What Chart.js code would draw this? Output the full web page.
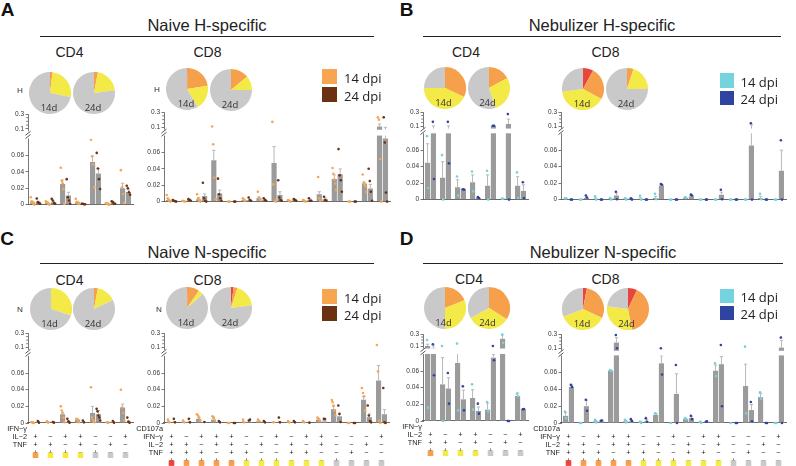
<!DOCTYPE html>
<html>
<head>
<meta charset="utf-8">
<script src="https://cdn.jsdelivr.net/npm/chart.js@4.4.1/dist/chart.umd.min.js"></script>
<style>
  body { margin: 0; background: #fff; }
  #fig { position: relative; width: 796px; height: 466px; overflow: hidden; font-family: "Liberation Sans", Arial, sans-serif; color: #222; }
  #fig canvas { position: absolute; }
  .t { position: absolute; transform: translate(-50%, -50%); line-height: 1; white-space: nowrap; }
  .sq { position: absolute; }
</style>
</head>
<body>
<div id="fig"></div>
<script>
// polyfunctional cytokine profiles, Naive vs Nebulizer, H and N specific

// ---- combos on the x axis ----
const cd4Ifng = ['+', '−', '+', '+', '−', '−', '+'];
const cd4Il2 = ['+', '+', '−', '+', '−', '+', '−'];
const cd4Tnf = ['+', '+', '+', '−', '+', '−', '−'];
const cd4Funcs = [3, 2, 2, 2, 1, 1, 1];

const cd8Cd107a = ['+', '−', '+', '+', '+', '−', '−', '+', '−', '+', '+', '−', '−', '−', '+'];
const cd8Ifng = ['+', '+', '−', '+', '+', '−', '+', '−', '+', '−', '+', '−', '−', '+', '−'];
const cd8Il2 = ['+', '+', '+', '−', '+', '+', '−', '−', '+', '+', '−', '−', '+', '−', '−'];
const cd8Tnf = ['+', '+', '+', '+', '−', '+', '+', '+', '−', '−', '−', '+', '−', '−', '−'];
const cd8Funcs = [4, 3, 3, 3, 3, 2, 2, 2, 2, 2, 2, 1, 1, 1, 1];

const yTickValues = [0, 0.02, 0.04, 0.06, 0.1, 0.3];
const yTickLabels = ['0', '0.02', '0.04', '0.06', '0.1', '0.3'];

// ---- pie fractions: [4 functions, 3, 2, 1] ----
const pieA4_14 = [0, 0.02, 0.26, 0.72];
const pieA4_24 = [0, 0.03, 0.2, 0.77];
const pieA8_14 = [0.005, 0.22, 0.19, 0.585];
const pieA8_24 = [0, 0.14, 0.11, 0.75];
const pieB4_14 = [0, 0.32, 0.43, 0.25];
const pieB4_24 = [0, 0.17, 0.28, 0.55];
const pieB8_14 = [0.08, 0.25, 0.4, 0.27];
const pieB8_24 = [0, 0.05, 0.2, 0.75];
const pieC4_14 = [0, 0, 0.3, 0.7];
const pieC4_24 = [0, 0.03, 0.15, 0.82];
const pieC8_14 = [0.005, 0.09, 0.04, 0.865];
const pieC8_24 = [0.02, 0.03, 0.18, 0.77];
const pieD4_14 = [0, 0.19, 0.31, 0.5];
const pieD4_24 = [0, 0.34, 0.33, 0.33];
const pieD8_14 = [0.03, 0.29, 0.37, 0.31];
const pieD8_24 = [0.07, 0.4, 0.3, 0.23];

// ---- A: Naive H-specific ----
const aCd4Mean14 = [0.003, 0.002, 0.025, 0.003, 0.052, 0.0015, 0.02];
const aCd4Sem14 = [0.001, 0.001, 0.005, 0.001, 0.007, 0.0005, 0.006];
const aCd4Dots14 = [[0.009, 0.004, 0.002, 0.001, 0], [0.004, 0.003, 0.002, 0.001, 0], [0.045, 0.029, 0.026, 0.019, 0.001], [0.007, 0.003, 0.002, 0.001, 0.001], [0.079, 0.059, 0.049, 0.021], [0.002, 0.001, 0.001, 0, 0], [0.042, 0.021, 0.013, 0.002]];
const aCd4Mean24 = [0.003, 0.003, 0.011, 0.0008, 0.038, 0.002, 0.0155];
const aCd4Sem24 = [0.001, 0.001, 0.004, 0.0003, 0.006, 0.001, 0.0025];
const aCd4Dots24 = [[0.0075, 0.003, 0.002, 0.001], [0.007, 0.005, 0.002, 0.001], [0.031, 0.009, 0.005, 0.001], [0.001, 0.001, 0.0005, 0.0005], [0.063, 0.044, 0.031, 0.019], [0.004, 0.003, 0.001, 0.001], [0.023, 0.02, 0.015, 0.012]];

const aCd8Mean14 = [0.002, 0.0005, 0.003, 0.0505, 0, 0.002, 0.004, 0.047, 0.001, 0.001, 0.009, 0.0275, 0, 0.022, 0.11];
const aCd8Sem14 = [0.001, 0.0003, 0.002, 0.012, 0, 0.001, 0.0015, 0.02, 0.0005, 0.0005, 0.003, 0.005, 0, 0.002, 0.032];
const aCd8Dots14 = [[0.008, 0.004, 0.002, 0.001, 0], [0.001, 0.0005, 0], [0.009, 0.004, 0.001, 0], [0.11, 0.07, 0.029, 0.003], [0, 0], [0.004, 0.002, 0.001], [0.012, 0.005, 0.002], [0.17, 0.021, 0.001, 0], [0.002, 0.001, 0], [0.002, 0.001, 0], [0.03, 0.004, 0.001], [0.041, 0.034, 0.027, 0.022, 0.014], [0, 0], [0.033, 0.023, 0.021, 0.019, 0.012], [0.23, 0.2, 0.052, 0]];
const aCd8Mean24 = [0.001, 0.002, 0.0068, 0.01, 0, 0.002, 0.002, 0.008, 0.002, 0.002, 0.003, 0.0333, 0, 0.016, 0.077];
const aCd8Sem24 = [0.0005, 0.001, 0.0025, 0.004, 0, 0.001, 0.001, 0.004, 0.001, 0.001, 0.0015, 0.0065, 0, 0.005, 0.023];
const aCd8Dots24 = [[0.002, 0.001, 0.0005, 0], [0.003, 0.002, 0.001], [0.023, 0.004, 0.001, 0], [0.028, 0.009, 0.004, 0.001], [0, 0], [0.005, 0.002, 0.001], [0.004, 0.002, 0.001], [0.026, 0.005, 0.002, 0.001], [0.003, 0.002, 0.001], [0.004, 0.001, 0.001], [0.006, 0.002, 0.001], [0.064, 0.032, 0.026, 0.012], [0, 0], [0.04, 0.025, 0.012, 0.001], [0.23, 0.072, 0.011, 0]];

// ---- B: Nebulizer H-specific ----
const bCd4Mean14 = [0.0448, 0.0264, 0.015, 0.021, 0.0168, 0.001, 0.0168];
const bCd4Sem14 = [0.023, 0.0196, 0.009, 0.009, 0.0132, 0.0003, 0.011];
const bCd4Dots14 = [[0.077, 0.014], [0.054, 0], [0.028, 0.005], [0.034, 0.01], [0.035, 0], [0.001, 0.001], [0.033, 0.002]];
const bCd4Mean24 = [0.092, 0.092, 0.013, 0.002, 0.105, 0.13, 0.0104];
const bCd4Sem24 = [0.01, 0.01, 0.0005, 0.0005, 0, 0.07, 0.0076];
const bCd4Dots24 = [[0.16, 0.025], [0.16, 0.044], [0.0125, 0.012], [0.003, 0.002], [0.105, 0.105], [0.27, 0], [0.021, 0.002]];

const bCd8Mean14 = [0.001, 0, 0.001, 0.001, 0.001, 0.001, 0.002, 0, 0.002, 0, 0, 0, 0, 0.002, 0];
const bCd8Sem14 = [0.0003, 0, 0.001, 0.0005, 0.0005, 0.001, 0.002, 0, 0.0005, 0, 0, 0, 0, 0.002, 0];
const bCd8Dots14 = [[0.0015, 0.0015], [0, 0], [0.004, 0], [0.002, 0], [0.0015, 0], [0.0045, 0], [0.007, 0.0005], [0, 0], [0.003, 0.002], [0, 0], [0, 0], [0, 0], [0, 0], [0.007, 0.0005], [0, 0]];
const bCd8Mean24 = [0, 0.002, 0, 0.005, 0.001, 0, 0.0172, 0, 0.004, 0, 0.006, 0, 0.0656, 0, 0.035];
const bCd8Sem24 = [0, 0.001, 0, 0.003, 0.0005, 0, 0.001, 0, 0.001, 0, 0.003, 0, 0.05, 0, 0.025];
const bCd8Dots24 = [[0, 0], [0.005, 0.0025], [0, 0], [0.0096, 0.0005], [0.0015, 0], [0, 0], [0.019, 0.018], [0, 0], [0.006, 0.005], [0, 0], [0.012, 0.0005], [0, 0], [0.14, 0], [0, 0], [0.072, 0]];

// ---- C: Naive N-specific ----
const cCd4Mean14 = [0.001, 0.001, 0.0105, 0.004, 0.012, 0.001, 0.0186];
const cCd4Sem14 = [0.0005, 0.0005, 0.0025, 0.001, 0.008, 0.0003, 0.004];
const cCd4Dots14 = [[0.0012, 0.0004, 0], [0.002, 0.0005], [0.02, 0.015, 0.012, 0.0065, 0.001], [0.005, 0.004, 0.001], [0.043, 0.0065, 0.003, 0.001], [0.0008, 0.0004], [0.04, 0.0186, 0.012, 0.003]];
const cCd4Mean24 = [0.001, 0.001, 0.001, 0.001, 0.0105, 0.001, 0.001];
const cCd4Sem24 = [0.0005, 0.0003, 0.001, 0.0005, 0.0045, 0.0005, 0.001];
const cCd4Dots24 = [[0.0024, 0.0004], [0.0012, 0.0004], [0.005, 0.002, 0.0004], [0.003, 0.0008], [0.017, 0.014, 0.009, 0.0065, 0.003], [0.0024, 0.0004], [0.0065, 0.0016, 0.0004]];

const cCd8Mean14 = [0.001, 0.001, 0.005, 0.004, 0, 0.001, 0.002, 0.001, 0.001, 0.001, 0.004, 0.0166, 0, 0.028, 0.051];
const cCd8Sem14 = [0.001, 0.0005, 0.002, 0.0015, 0, 0.0008, 0.001, 0.0003, 0.0005, 0.0005, 0.001, 0.0034, 0, 0.0036, 0.018];
const cCd8Dots14 = [[0.004, 0.0008], [0.003, 0.0008], [0.0105, 0.009, 0.0065, 0.003], [0.008, 0.007, 0.003], [0, 0], [0.004, 0.0008], [0.004, 0.0024], [0.0008], [0.0024, 0.0008], [0.0024, 0.0008], [0.0065, 0.005, 0.0024], [0.0275, 0.025, 0.021, 0.015, 0.009], [0, 0], [0.042, 0.036, 0.032, 0.015], [0.133, 0.062, 0.003, 0]];
const cCd8Mean24 = [0.001, 0.001, 0.001, 0.001, 0, 0.001, 0.001, 0.001, 0.001, 0, 0.002, 0.008, 0, 0.007, 0.0105];
const cCd8Sem24 = [0.001, 0.001, 0.0003, 0.0005, 0, 0.001, 0.0005, 0.001, 0.0005, 0, 0.001, 0.0025, 0, 0.004, 0.0055];
const cCd8Dots24 = [[0.005, 0.0008], [0.005, 0.0008], [0.0012], [0.0024, 0.0008], [0, 0], [0.003, 0.004], [0.0024, 0.0008], [0.0065, 0.0008], [0.0024, 0.0008], [0.0004], [0.005, 0.0048], [0.021, 0.011, 0.0012], [0, 0], [0.021, 0.009, 0.0024, 0.0008], [0.042, 0.0008, 0]];

// ---- D: Nebulizer N-specific ----
const dCd4Mean14 = [0.1, 0.044, 0.0696, 0.0276, 0.0136, 0.22, 0.03];
const dCd4Sem14 = [0.03, 0.032, 0.019, 0.01, 0.008, 0.065, 0.0036];
const dCd4Dots14 = [[0.2, 0.016], [0.1, 0], [0.14, 0.0128], [0.044, 0.0136], [0.0228, 0.0116], [0.29, 0.155], [0.0328, 0.0296]];
const dCd4Mean24 = [0.094, 0.039, 0.026, 0.012, 0.076, 0, 0.014];
const dCd4Sem24 = [0.007, 0.013, 0.011, 0.0048, 0.004, 0, 0.0004];
const dCd4Dots24 = [[0.13, 0.055], [0.0576, 0.0208], [0.0416, 0.0128], [0.0208, 0.0088], [0.1, 0.073], [0, 0], [0.014, 0.0144]];

const dCd8Mean14 = [0.0085, 0, 0.002, 0.0623, 0.002, 0.001, 0.0096, 0, 0.0046, 0.001, 0.0623, 0, 0.044, 0.0308, 0];
const dCd8Sem14 = [0.0038, 0, 0.001, 0.0005, 0.001, 0.001, 0.002, 0, 0.0005, 0.0005, 0.0067, 0, 0.026, 0.0042, 0];
const dCd8Dots14 = [[0.0135, 0.0058], [0, 0], [0.0038, 0.0008], [0.063, 0.062], [0.0038, 0.0008], [0.0015, 0.0001], [0.0115, 0.0108], [0], [0.0058, 0.0046], [0.0015, 0.0002], [0.071, 0.056], [0], [0.123, 0.0115], [0.0365, 0.029], [0, 0]];
const dCd8Mean24 = [0.043, 0.02, 0.002, 0.18, 0.002, 0.002, 0.071, 0.0346, 0.0058, 0.001, 0.07, 0, 0.0154, 0, 0.11];
const dCd8Sem24 = [0.0024, 0.007, 0.0003, 0.07, 0.001, 0.002, 0.009, 0.024, 0.002, 0.0008, 0.009, 0, 0.0066, 0, 0.1];
const dCd8Dots24 = [[0.0454, 0.043], [0.0277, 0.0146], [0.0027, 0.003], [0.286, 0.1], [0.0046, 0.0023], [0.0058, 0.0015], [0.1, 0.0577], [0.069, 0], [0.0085, 0.0046], [0.0015, 0.0019], [0.147, 0.02], [0, 0], [0.025, 0.002], [0, 0], [0.25, 0]];

// ---- styles ----
const FONT = '"Liberation Sans", Arial, sans-serif';
const ORANGE = '#f7a551', BROWN = '#6b3212', CYAN = '#74d3df', NAVY = '#2f43a0';
const BAR = '#9b9b9b', ERR = '#b8b8b8';
const fnColors = { 4: '#e9453f', 3: '#f6a04b', 2: '#f3e947', 1: '#c9c9c9' };
const pieColors = [fnColors[4], fnColors[3], fnColors[2], fnColors[1]];
const LOW_MAX = 0.08, HIGH_MIN = 0.1, TOP = 0.3;

Chart.defaults.animation = false;
Chart.defaults.font.family = FONT;

const fig = document.getElementById('fig');

// broken y axis: 0..0.08 below, 0.1..0.3 above
class BrokenScale extends Chart.LinearScale {
  determineDataLimits() { this.min = 0; this.max = TOP; }
  buildTicks() { return yTickValues.map(v => ({ value: v })); }
  getPixelForValue(v) {
    const b = this.options.brk;
    let f;
    if (v <= LOW_MAX) f = v / LOW_MAX * b.low;
    else if (v <= HIGH_MIN) f = b.low + (v - LOW_MAX) / (HIGH_MIN - LOW_MAX) * (b.high - b.low);
    else f = b.high + (v - HIGH_MIN) / (TOP - HIGH_MIN) * (1 - b.high);
    return this.bottom - f * (this.bottom - this.top);
  }
  getValueForPixel(p) {
    const b = this.options.brk;
    const f = (this.bottom - p) / (this.bottom - this.top);
    if (f <= b.low) return f / b.low * LOW_MAX;
    if (f <= b.high) return LOW_MAX + (f - b.low) / (b.high - b.low) * (HIGH_MIN - LOW_MAX);
    return HIGH_MIN + (f - b.high) / (1 - b.high) * (TOP - HIGH_MIN);
  }
}
BrokenScale.id = 'broken';
BrokenScale.defaults = {};
Chart.register(BrokenScale);

function text(s, x, y, css) {
  const d = document.createElement('div');
  d.className = 't';
  d.textContent = s;
  d.style.cssText = `left:${x}px;top:${y}px;` + (css || '');
  fig.appendChild(d);
}

function line(x1, x2, y) {
  const d = document.createElement('div');
  d.className = 'sq';
  d.style.cssText = `left:${x1}px;top:${y - 0.6}px;width:${x2 - x1}px;height:1.3px;background:#222;`;
  fig.appendChild(d);
}

function legend(x, y1, y2, w, h, c1, c2) {
  [[y1, c1, '14 dpi'], [y2, c2, '24 dpi']].forEach(([y, c, s]) => {
    const d = document.createElement('div');
    d.className = 'sq';
    d.style.cssText = `left:${x}px;top:${y}px;width:${w}px;height:${h}px;background:${c};`;
    fig.appendChild(d);
    text(s, x + w + 7, y + h / 2 + 1.5, 'transform:translate(0,-50%);font-family:"Open Sans";font-size:13px;color:#222;');
  });
}

function pie(vals, cx, cy, label) {
  const r = 21;
  const cv = document.createElement('canvas');
  cv.width = 2 * r; cv.height = 2 * r;
  cv.style.left = (cx - r) + 'px'; cv.style.top = (cy - r) + 'px';
  fig.appendChild(cv);
  new Chart(cv, {
    type: 'pie',
    data: { labels: ['4', '3', '2', '1'], datasets: [{ data: vals, backgroundColor: pieColors, borderWidth: 0 }] },
    options: { responsive: false, events: [], layout: { padding: 0 }, plugins: { legend: { display: false }, tooltip: { enabled: false } } }
  });
  text(label, cx - 1, cy + 15, 'font-family:"Open Sans";font-size:9.5px;color:#333;');
}

const decor = {
  id: 'decor',
  afterDatasetDraw(chart, args) {
    const ds = chart.data.datasets[args.index];
    if (!ds.errors) return;
    const ctx = chart.ctx, y = chart.scales.y;
    ctx.save();
    ctx.strokeStyle = ERR;
    ctx.lineWidth = 1;
    args.meta.data.forEach((bar, i) => {
      const e = ds.errors[i];
      if (!e) return;
      const top = y.getPixelForValue(ds.data[i].y + e), w = bar.width * 0.32;
      ctx.beginPath();
      ctx.moveTo(bar.x, bar.y); ctx.lineTo(bar.x, top);
      ctx.moveTo(bar.x - w, top); ctx.lineTo(bar.x + w, top);
      ctx.stroke();
    });
    ctx.restore();
  },
  afterDatasetsDraw(chart) {
    const ctx = chart.ctx, y = chart.scales.y, a = chart.chartArea;
    const top = y.getPixelForValue(HIGH_MIN) + 2.5, bot = y.getPixelForValue(LOW_MAX) - 0.4;
    ctx.save();
    ctx.fillStyle = '#fff';
    ctx.fillRect(a.left - 1.5, top, a.right - a.left + 3, bot - top);
    ctx.strokeStyle = '#444';
    ctx.lineWidth = 0.9;
    const c = (top + bot) / 2;
    [-1.6, 1.6].forEach(d => {
      ctx.beginPath();
      ctx.moveTo(a.left - 2.5, c + d + 2);
      ctx.lineTo(a.left + 2.5, c + d - 2);
      ctx.stroke();
    });
    ctx.lineWidth = 0.7;
    [0.15, 0.2, 0.25].forEach(v => {
      const p = y.getPixelForValue(v);
      ctx.beginPath(); ctx.moveTo(a.left - 1.8, p); ctx.lineTo(a.left, p); ctx.stroke();
    });
    ctx.restore();
  },
  afterDraw(chart) {
    const t = chart.options.plugins.decor;
    if (!t || !t.rows) return;
    const ctx = chart.ctx, xs = chart.scales.x;
    const lh = 7.3 * 1.08, y1 = xs.top + 2.4 + lh / 2;
    ctx.save();
    ctx.font = '7.3px ' + FONT;
    ctx.fillStyle = '#222';
    ctx.textAlign = 'right';
    ctx.textBaseline = 'middle';
    t.rows.forEach((r, k) => ctx.fillText(r, xs.left - 1, y1 + k * lh));
    const ys = y1 + (t.rows.length - 1) * lh + 7.3;
    t.funcs.forEach((f, i) => {
      const px = xs.getPixelForValue(i);
      ctx.fillStyle = fnColors[f];
      ctx.fillRect(px - 2.8, ys, 5.6, 5.6);
    });
    ctx.restore();
  }
};

function barChart(s) {
  const n = s.m14.length;
  const xh = s.table ? 46 : 4;
  const cv = document.createElement('canvas');
  cv.width = s.R - s.L + 44;
  cv.height = s.B - s.T + 6 + xh;
  cv.style.left = (s.L - 36) + 'px';
  cv.style.top = (s.T - 6) + 'px';
  fig.appendChild(cv);
  const span = s.B - s.T;
  const brk = { low: 8 * s.k / span, high: (s.B - s.y01) / span };
  const off = 0.195;
  const labels = n === 7
    ? cd4Ifng.map((v, i) => [v, cd4Il2[i], cd4Tnf[i]])
    : cd8Cd107a.map((v, i) => [v, cd8Ifng[i], cd8Il2[i], cd8Tnf[i]]);
  const spread = (sets, shift) => sets.flatMap((arr, i) => arr.map((v, j) => {
    const m = arr.length, step = m > 1 ? Math.min(0.075, 0.24 / (m - 1)) : 0;
    return { x: i + shift + (j - (m - 1) / 2) * step, y: v };
  }));
  const dot = (data, color) => ({
    type: 'scatter', data, order: 1, clip: 6,
    pointRadius: 1.3, pointBorderWidth: 0, pointBackgroundColor: color
  });
  const bar = (vals, errors, shift) => ({
    type: 'bar', data: vals.map((v, i) => ({ x: i + shift, y: v })), errors, order: 2, grouped: false,
    backgroundColor: BAR, borderWidth: 0, categoryPercentage: 1, barPercentage: 0.88
  });
  new Chart(cv, {
    type: 'bar',
    data: {
      datasets: [
        bar(s.m14, s.e14, -off), bar(s.m24, s.e24, off),
        dot(spread(s.d14, -off), s.c14), dot(spread(s.d24, off), s.c24)
      ]
    },
    options: {
      responsive: false,
      events: [],
      layout: { padding: { top: 6, right: 8, left: 0, bottom: 0 } },
      plugins: {
        legend: { display: false },
        tooltip: { enabled: false },
        decor: s.table ? { rows: n === 7 ? ['IFN−γ', 'IL−2', 'TNF'] : ['CD107a', 'IFN−γ', 'IL−2', 'TNF'], funcs: n === 7 ? cd4Funcs : cd8Funcs } : {}
      },
      scales: {
        x: {
          type: 'linear', offset: false, min: -0.5, max: n - 0.5,
          afterBuildTicks: sc => { sc.ticks = labels.map((_, i) => ({ value: i })); },
          grid: { display: false },
          border: { display: true, color: '#6a6a6a', width: 1.1 },
          ticks: {
            display: s.table, autoSkip: false, maxRotation: 0, padding: 2.4, color: '#222',
            font: { size: 7.3, lineHeight: 1.08 },
            callback: v => labels[Math.round(v)]
          },
          afterFit: sc => { sc.height = xh; }
        },
        y: {
          type: 'broken', brk, position: 'left',
          grid: { display: true, drawOnChartArea: false, drawTicks: true, tickLength: 2.5, color: '#555', lineWidth: 0.8 },
          border: { display: true, color: '#555', width: 0.8 },
          ticks: { autoSkip: false, padding: 1.5, color: '#333', font: { size: 6.5 }, callback: (v, i) => yTickLabels[i] },
          afterFit: sc => { sc.width = 36; }
        }
      }
    },
    plugins: [decor]
  });
}

// ---- headings ----
const big = 'font-size:19px;font-weight:bold;color:#111;';
text('A', 7.5, 8.5, big);
text('B', 406.5, 8.5, big);
text('C', 7, 238, big);
text('D', 406.5, 238, big);
const ttl = 'font-size:16.5px;color:#222;';
text('Naive H-specific', 207, 25, ttl);
text('Nebulizer H-specific', 602, 25, ttl);
text('Naive N-specific', 207, 252, ttl);
text('Nebulizer N-specific', 603, 252, ttl);
line(40, 374, 36.5);
line(423, 781, 36.5);
line(40, 374, 263.5);
line(423, 783, 263.5);
const cd = 'font-size:14px;color:#222;';
text('CD4', 69.5, 52, cd); text('CD8', 207.5, 52, cd);
text('CD4', 466, 52, cd); text('CD8', 605.5, 52, cd);
text('CD4', 69.5, 279.5, cd); text('CD8', 207.5, 279.5, cd);
text('CD4', 469, 278.5, cd); text('CD8', 605.5, 278.5, cd);
const ag = 'font-size:8px;color:#333;';
text('H', 20, 91, ag); text('H', 157, 90, ag);
text('N', 20, 310, ag); text('N', 159, 310, ag);

// ---- pies ----
pie(pieA4_14, 50, 93, '14d'); pie(pieA4_24, 94, 93, '24d');
pie(pieA8_14, 187, 89, '14d'); pie(pieA8_24, 231, 89.5, '24d');
pie(pieB4_14, 444.5, 88, '14d'); pie(pieB4_24, 488.5, 88, '24d');
pie(pieB8_14, 583, 89, '14d'); pie(pieB8_24, 627, 89, '24d');
pie(pieC4_14, 50.5, 309, '14d'); pie(pieC4_24, 94, 309, '24d');
pie(pieC8_14, 187, 308, '14d'); pie(pieC8_24, 231, 308, '24d');
pie(pieD4_14, 444.5, 307.5, '14d'); pie(pieD4_24, 488.5, 307.5, '24d');
pie(pieD8_14, 583, 309, '14d'); pie(pieD8_24, 627.5, 309, '24d');

// ---- legends ----
legend(322, 68.5, 86.5, 15, 15, ORANGE, BROWN);
legend(720, 73, 90.5, 13.5, 14.5, CYAN, NAVY);
legend(322, 288.5, 305.5, 15, 15, ORANGE, BROWN);
legend(720, 288.5, 305.5, 13.5, 14.5, CYAN, NAVY);

// ---- bar charts ----
barChart({ L: 28, R: 133, T: 114, B: 206, k: 8.33, y01: 129, table: false, m14: aCd4Mean14, e14: aCd4Sem14, d14: aCd4Dots14, m24: aCd4Mean24, e24: aCd4Sem24, d24: aCd4Dots24, c14: ORANGE, c24: BROWN });
barChart({ L: 164, R: 390, T: 112, B: 203, k: 8.33, y01: 127.5, table: false, m14: aCd8Mean14, e14: aCd8Sem14, d14: aCd8Dots14, m24: aCd8Mean24, e24: aCd8Sem24, d24: aCd8Dots24, c14: ORANGE, c24: BROWN });
barChart({ L: 423, R: 528, T: 112, B: 201, k: 8.37, y01: 126.3, table: false, m14: bCd4Mean14, e14: bCd4Sem14, d14: bCd4Dots14, m24: bCd4Mean24, e24: bCd4Sem24, d24: bCd4Dots24, c14: CYAN, c24: NAVY });
barChart({ L: 561, R: 786, T: 112, B: 201, k: 8.37, y01: 126.3, table: false, m14: bCd8Mean14, e14: bCd8Sem14, d14: bCd8Dots14, m24: bCd8Mean24, e24: bCd8Sem24, d24: bCd8Dots24, c14: CYAN, c24: NAVY });
barChart({ L: 28, R: 133, T: 333, B: 423, k: 8.33, y01: 347.3, table: true, m14: cCd4Mean14, e14: cCd4Sem14, d14: cCd4Dots14, m24: cCd4Mean24, e24: cCd4Sem24, d24: cCd4Dots24, c14: ORANGE, c24: BROWN });
barChart({ L: 164, R: 389, T: 333, B: 423, k: 8.33, y01: 347.3, table: true, m14: cCd8Mean14, e14: cCd8Sem14, d14: cCd8Dots14, m24: cCd8Mean24, e24: cCd8Sem24, d24: cCd8Dots24, c14: ORANGE, c24: BROWN });
barChart({ L: 423, R: 528, T: 334, B: 421, k: 8.33, y01: 346, table: true, m14: dCd4Mean14, e14: dCd4Sem14, d14: dCd4Dots14, m24: dCd4Mean24, e24: dCd4Sem24, d24: dCd4Dots24, c14: CYAN, c24: NAVY });
barChart({ L: 561, R: 786, T: 334, B: 423, k: 8.4, y01: 348.3, table: true, m14: dCd8Mean14, e14: dCd8Sem14, d14: dCd8Dots14, m24: dCd8Mean24, e24: dCd8Sem24, d24: dCd8Dots24, c14: CYAN, c24: NAVY });
</script>
</body>
</html>
